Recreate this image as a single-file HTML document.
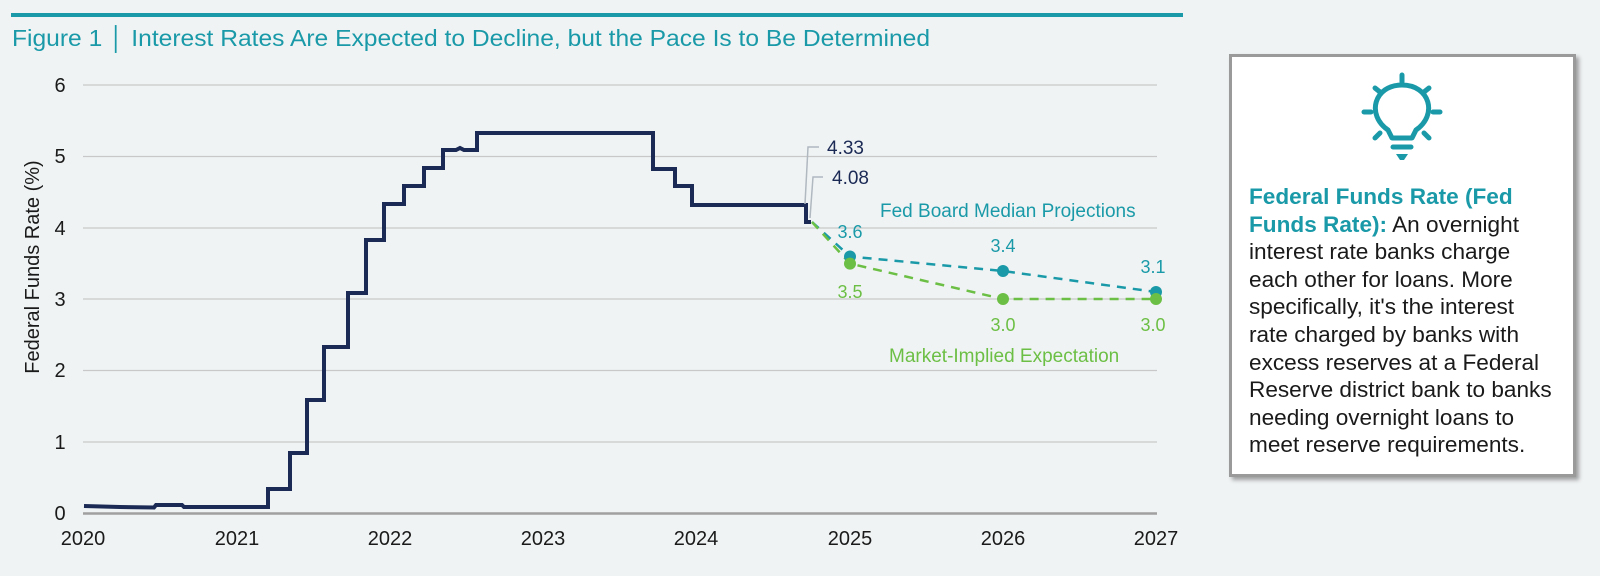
<!DOCTYPE html>
<html><head><meta charset="utf-8"><style>
html,body{margin:0;padding:0;background:#f0f3f4;}
body{width:1600px;height:576px;overflow:hidden;position:relative;font-family:"Liberation Sans",Arial,sans-serif;}
.box{position:absolute;left:1229px;top:54px;width:341px;height:417px;background:#fff;border:3px solid #9a9a9a;box-shadow:3px 3px 4px rgba(0,0,0,0.35);box-sizing:content-box;}
.txt{position:absolute;left:17px;top:126px;white-space:nowrap;font-size:22.6px;line-height:27.6px;color:#1a1a1a;}
.txt b{color:#1a9aa8;}
</style></head><body>
<svg width="1600" height="576" style="position:absolute;left:0;top:0" font-family="Liberation Sans, Arial, sans-serif">
<rect x="11" y="13" width="1172" height="4" fill="#1a9aa8"/>
<text x="12" y="46" font-size="23" fill="#1a9aa8" textLength="918" lengthAdjust="spacingAndGlyphs">Figure 1 │ Interest Rates Are Expected to Decline, but the Pace Is to Be Determined</text>
<g stroke="#c8c8c8" stroke-width="1.3">
<line x1="83" x2="1157" y1="85" y2="85"/><line x1="83" x2="1157" y1="156.5" y2="156.5"/>
<line x1="83" x2="1157" y1="228" y2="228"/><line x1="83" x2="1157" y1="299" y2="299"/>
<line x1="83" x2="1157" y1="370.5" y2="370.5"/><line x1="83" x2="1157" y1="442" y2="442"/>
</g>
<line x1="83" x2="1157" y1="513.5" y2="513.5" stroke="#a0a0a0" stroke-width="2.5"/>
<g font-size="20" fill="#1a1a1a" text-anchor="middle">
<text x="60" y="92">6</text><text x="60" y="163">5</text><text x="60" y="235">4</text><text x="60" y="306">3</text><text x="60" y="377">2</text><text x="60" y="449">1</text><text x="60" y="520">0</text>
<text x="83" y="545">2020</text><text x="237" y="545">2021</text><text x="390" y="545">2022</text><text x="543" y="545">2023</text><text x="696" y="545">2024</text><text x="850" y="545">2025</text><text x="1003" y="545">2026</text><text x="1156" y="545">2027</text>
<text transform="translate(39,267) rotate(-90)">Federal Funds Rate (%)</text>
</g>
<polyline fill="none" stroke="#1b2a55" stroke-width="4" stroke-linejoin="miter" points="84,506 120,507 154,507.5 156,505 182,505 184,507 268,507 268,489 290,489 290,453 307,453 307,400 324,400 324,347 348,347 348,293 366,293 366,240 384,240 384,204 404,204 404,186 424,186 424,168 443,168 443,150 456,150 460,148 464,150 477,150 477,133 653,133 653,169 675,169 675,186 692,186 692,205 806,205 806,222 811,222"/>
<polyline fill="none" stroke="#b0b8c0" stroke-width="1.5" points="805,204 808,147 819,147"/>
<polyline fill="none" stroke="#b0b8c0" stroke-width="1.5" points="810,218 813,177 823,177"/>
<text x="827" y="154" font-size="19" fill="#1b2a55">4.33</text>
<text x="832" y="184" font-size="19" fill="#1b2a55">4.08</text>
<polyline fill="none" stroke="#1a9aa8" stroke-width="2.5" stroke-dasharray="9,7" points="812,222 850,256.5 1003,271 1156,292"/>
<polyline fill="none" stroke="#6cbf45" stroke-width="2.5" stroke-dasharray="9,7" points="812,222 850,263.6 1003,299 1156,299"/>
<g fill="#1a9aa8"><circle cx="850" cy="256.5" r="6"/><circle cx="1003" cy="271" r="6"/><circle cx="1156" cy="292" r="6"/></g>
<g fill="#6cbf45"><circle cx="850" cy="263.6" r="6"/><circle cx="1003" cy="299" r="6"/><circle cx="1156" cy="299" r="6"/></g>
<g font-size="18" text-anchor="middle">
<text x="850" y="238" fill="#1a9aa8">3.6</text><text x="1003" y="252" fill="#1a9aa8">3.4</text><text x="1153" y="273" fill="#1a9aa8">3.1</text>
<text x="850" y="298" fill="#6cbf45">3.5</text><text x="1003" y="331" fill="#6cbf45">3.0</text><text x="1153" y="331" fill="#6cbf45">3.0</text>
</g>
<text x="880" y="217" font-size="19" fill="#1a9aa8">Fed Board Median Projections</text>
<text x="889" y="362" font-size="19" fill="#6cbf45">Market-Implied Expectation</text>
</svg>
<div class="box">
<svg width="341" height="120" style="position:absolute;left:0;top:0">
<g transform="translate(-1232,-57)" stroke="#1a9aa8" stroke-width="5" stroke-linecap="round" fill="none">
<path d="M1392,138 L1388,130 C1366,115 1374,85 1402,85 C1430,85 1438,115 1416,130 L1412,138 Z" stroke-linejoin="round"/>
<line x1="1402" y1="75" x2="1402" y2="82"/>
<line x1="1364" y1="112" x2="1371" y2="112"/><line x1="1433" y1="112" x2="1440" y2="112"/>
<line x1="1375" y1="88" x2="1380" y2="92"/><line x1="1429" y1="88" x2="1424" y2="92"/>
<line x1="1375" y1="138" x2="1380" y2="133"/><line x1="1429" y1="138" x2="1424" y2="133"/>
<line x1="1393" y1="147" x2="1411" y2="147"/>
</g>
<path d="M1396,154 L1408,154 L1404,160 L1400,160 Z" transform="translate(-1232,-57)" fill="#1a9aa8"/>
</svg>
<div class="txt"><b>Federal Funds Rate (Fed<br>Funds Rate):</b> An overnight<br>interest rate banks charge<br>each other for loans. More<br>specifically, it's the interest<br>rate charged by banks with<br>excess reserves at a Federal<br>Reserve district bank to banks<br>needing overnight loans to<br>meet reserve requirements.</div>
</div>
</body></html>
